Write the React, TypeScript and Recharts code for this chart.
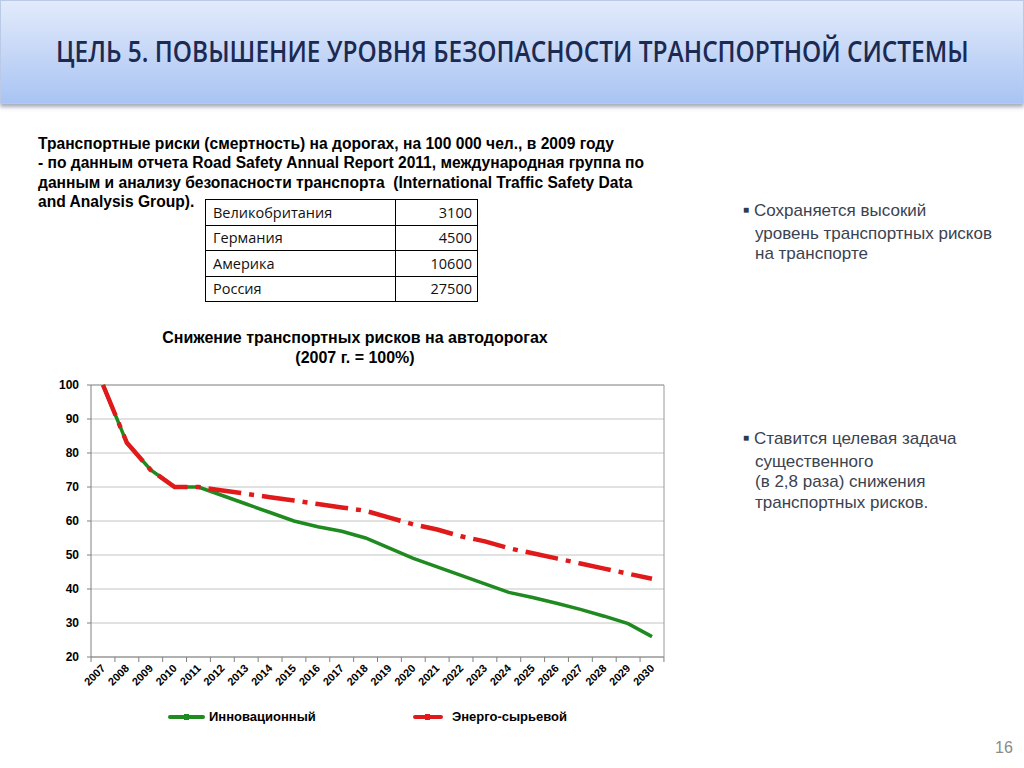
import { useLayoutEffect, useRef, useState } from 'react'
import { LineChart, Line, XAxis, YAxis, CartesianGrid, Legend, ReferenceLine } from 'recharts'

const years = [
  '2007', '2008', '2009', '2010', '2011', '2012', '2013', '2014', '2015', '2016', '2017', '2018',
  '2019', '2020', '2021', '2022', '2023', '2024', '2025', '2026', '2027', '2028', '2029', '2030',
]
const innovative = [100, 83, 75, 70, 70, 67.5, 65, 62.5, 60, 58.3, 57, 55, 52, 49, 46.5, 44, 41.5, 39, 37.5, 35.8, 34, 32, 29.8, 26]
const energyRaw = [100, 83, 75, 70, 70, 69, 68, 67, 66, 65, 64, 63, 61, 59, 57.5, 55.5, 54, 52, 50.5, 49, 47.5, 46, 44.5, 43]
const yTicks = [20, 30, 40, 50, 60, 70, 80, 90, 100]
const seriesNames = ['Инновационный', 'Энерго-сырьевой']

const tableRows = [
  { country: 'Великобритания', value: '3100' },
  { country: 'Германия', value: '4500' },
  { country: 'Америка', value: '10600' },
  { country: 'Россия', value: '27500' },
]

const data = years.map((year, i) => ({ year, innovative: innovative[i], energy: energyRaw[i] }))

const GREEN = '#1f8a1f'
const RED = '#e01a1a'
const ARIAL = '"Liberation Sans", Arial, sans-serif'
const TITLE = 'ЦЕЛЬ 5. ПОВЫШЕНИЕ УРОВНЯ БЕЗОПАСНОСТИ ТРАНСПОРТНОЙ СИСТЕМЫ'

// year labels rotated like Excel, with tick marks between categories
const YearTick = (props: any) => {
  const { x, y, payload, index } = props
  const half = 11.94
  return (
    <g>
      <line x1={x - half} y1={y - 8} x2={x - half} y2={y - 3} stroke="#808080" />
      {index === years.length - 1 && (
        <line x1={x + half} y1={y - 8} x2={x + half} y2={y - 3} stroke="#808080" />
      )}
      <text
        x={x + 3}
        y={y + 4}
        textAnchor="end"
        fontSize={11}
        fontWeight={700}
        fontFamily={ARIAL}
        fill="#000"
        transform={`rotate(-45, ${x + 3}, ${y + 4})`}
      >
        {payload.value}
      </text>
    </g>
  )
}

const LegendContent = () => (
  <div style={{ position: 'relative', height: 30, fontFamily: ARIAL, fontSize: 13, fontWeight: 700 }}>
    <div style={{ position: 'absolute', left: 117, top: 13, width: 37, height: 4, background: GREEN, borderRadius: 2 }} />
    <div style={{ position: 'absolute', left: 133, top: 12, width: 5, height: 6, background: GREEN }} />
    <div style={{ position: 'absolute', left: 158, top: 7 }}>{seriesNames[0]}</div>
    <div style={{ position: 'absolute', left: 362, top: 13, width: 30, height: 4, background: RED, borderRadius: 2 }} />
    <div style={{ position: 'absolute', left: 374, top: 12, width: 5, height: 6, background: RED }} />
    <div style={{ position: 'absolute', left: 401, top: 7 }}>{seriesNames[1]}</div>
  </div>
)

// condensed heading: squeeze the bold text to the width it has on the slide
function Heading() {
  const ref = useRef<HTMLSpanElement>(null)
  const [scale, setScale] = useState(1)
  useLayoutEffect(() => {
    if (ref.current) setScale(913 / ref.current.offsetWidth)
  }, [])
  return (
    <span
      ref={ref}
      style={{
        position: 'absolute', left: 55, top: 32, whiteSpace: 'nowrap',
        fontFamily: '"Open Sans", sans-serif', fontWeight: 600, fontSize: 28, lineHeight: '36px',
        color: '#1c2a52', transform: `scaleX(${scale})`, transformOrigin: '0 0',
      }}
    >
      {TITLE}
    </span>
  )
}

export default function App() {
  return (
    <div style={{ position: 'fixed', left: 0, top: 0, width: 1024, height: 768, background: '#fff', overflow: 'hidden' }}>
      {/* header banner */}
      <div
        style={{
          position: 'absolute', left: 0, top: 0, width: 1022, height: 102,
          background: 'linear-gradient(#e2ebfb, #c9d9f7 45%, #a9c4f3)',
          border: '1px solid #b9c9e6',
          boxShadow: '0 3px 4px rgba(90,100,130,0.55)',
        }}
      >
        <Heading />
      </div>

      {/* source text */}
      <div
        style={{
          position: 'absolute', left: 38, top: 134, width: 660,
          fontFamily: ARIAL, fontWeight: 700, fontSize: 15.6, lineHeight: '19.3px', color: '#000',
        }}
      >
        Транспортные риски (смертность) на дорогах, на 100 000 чел., в 2009 году
        <br />- по данным отчета Road Safety Annual Report 2011, международная группа по
        <br />данным и анализу безопасности транспорта&nbsp; (International Traffic Safety Data
        <br />and Analysis Group).
      </div>

      {/* table */}
      <table
        style={{
          position: 'absolute', left: 205, top: 199, borderCollapse: 'collapse',
          fontFamily: '"Open Sans", sans-serif', fontSize: 14.5, color: '#111',
        }}
      >
        <tbody>
          {tableRows.map((r) => (
            <tr key={r.country} style={{ height: 25.5 }}>
              <td style={{ border: '1.5px solid #000', width: 182, padding: '0 0 0 7px' }}>{r.country}</td>
              <td style={{ border: '1.5px solid #000', width: 76, padding: '0 5px 0 0', textAlign: 'right' }}>{r.value}</td>
            </tr>
          ))}
        </tbody>
      </table>

      {/* right-hand notes */}
      <div style={{ position: 'absolute', left: 743, top: 201, fontFamily: ARIAL, fontSize: 17, lineHeight: '20.5px', color: '#3b4250' }}>
        <span style={{ fontSize: 10, position: 'relative', top: -3, marginRight: 5, color: '#2f3a4c' }}>■</span>Сохраняется высокий
        <br /><span style={{ marginLeft: 12 }}>уровень транспортных рисков</span>
        <br /><span style={{ marginLeft: 12 }}>на транспорте</span>
      </div>
      <div style={{ position: 'absolute', left: 743, top: 429, fontFamily: ARIAL, fontSize: 17, lineHeight: '20.5px', color: '#3b4250' }}>
        <span style={{ fontSize: 10, position: 'relative', top: -3, marginRight: 5, color: '#2f3a4c' }}>■</span>Ставится целевая задача
        <br /><span style={{ marginLeft: 12 }}>существенного</span>
        <br /><span style={{ marginLeft: 12 }}>(в 2,8 раза) снижения</span>
        <br /><span style={{ marginLeft: 12 }}>транспортных рисков.</span>
      </div>

      {/* chart title */}
      <div
        style={{
          position: 'absolute', left: 105, top: 328, width: 500, textAlign: 'center',
          fontFamily: ARIAL, fontWeight: 700, fontSize: 16, lineHeight: '19.5px', color: '#000',
        }}
      >
        Снижение транспортных рисков на автодорогах
        <br />(2007 г. = 100%)
      </div>

      <div style={{ position: 'absolute', left: 40, top: 370 }}>
        <LineChart width={640} height={375} data={data} margin={{ top: 15, right: 15, left: 11, bottom: 13 }}>
          <CartesianGrid vertical={false} stroke="#c4c4c4" />
          <XAxis
            dataKey="year"
            height={45}
            padding={{ left: 12, right: 12 }}
            axisLine={{ stroke: '#808080' }}
            tickLine={false}
            interval={0}
            tick={<YearTick />}
          />
          <YAxis
            domain={[20, 100]}
            ticks={yTicks}
            width={40}
            tickSize={4}
            tickMargin={8}
            axisLine={{ stroke: '#808080' }}
            tickLine={{ stroke: '#808080' }}
            tick={{ fontSize: 12, fontWeight: 700, fill: '#000', fontFamily: ARIAL }}
          />
          <YAxis yAxisId="r" orientation="right" width={1} tick={false} tickLine={false} axisLine={{ stroke: '#9a9a9a' }} />
          <ReferenceLine y={100} stroke="#9a9a9a" />
          <Legend verticalAlign="bottom" height={30} content={<LegendContent />} />
          <Line
            dataKey="innovative"
            name={seriesNames[0]}
            stroke={GREEN}
            strokeWidth={3.5}
            dot={false}
            isAnimationActive={false}
          />
          <Line
            dataKey="energy"
            name={seriesNames[1]}
            stroke={RED}
            strokeWidth={4.5}
            strokeDasharray="33 8 5 8"
            dot={false}
            isAnimationActive={false}
          />
        </LineChart>
      </div>

      <div style={{ position: 'absolute', left: 995, top: 739, fontFamily: ARIAL, fontSize: 16, color: '#8a8a8a' }}>16</div>
    </div>
  )
}
